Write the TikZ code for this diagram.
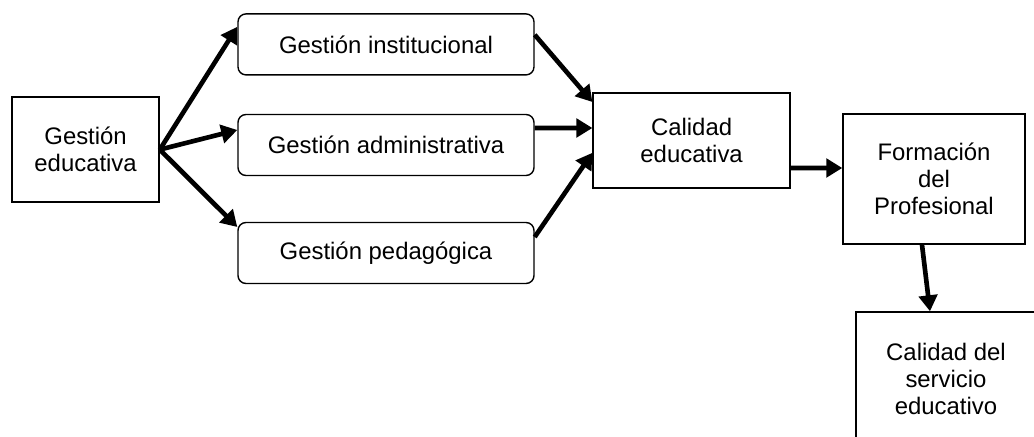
\documentclass[tikz,border=0pt]{standalone}
\usepackage{fontspec}
\setmainfont{Liberation Sans}
\usepackage{tikz}
\usetikzlibrary{positioning,arrows.meta,calc}

\begin{document}
\begin{tikzpicture}[
  font=\fontsize{17}{19.2}\selectfont,
  caja/.style={draw, line width=1pt, align=center, inner sep=0pt},
  cajar/.style={caja, rounded corners=2mm, minimum width=7.4cm, minimum height=1.525cm},
  flecha/.style={-{Triangle[length=4mm, width=4.6mm]}, line width=3.3pt}]
\clip (0,0) rectangle (25.85,-10.925);
\node[caja, minimum width=3.675cm, minimum height=2.625cm] (ged) at (2.14,-3.74) {Gestión\\educativa};
\node[cajar] (gin) at (9.65,-1.11) {Gestión institucional};
\node[cajar] (gad) at (9.65,-3.625) {Gestión administrativa};
\node[cajar] (gpe) at (9.65,-6.325) {Gestión pedagógica};
\node[caja, minimum width=4.925cm, minimum height=2.375cm] (cal) at (17.29,-3.51) {Calidad\\educativa};
\node[caja, minimum width=4.55cm, minimum height=3.25cm] (for) at (23.35,-4.475) {Formación\\del\\Profesional};
\node[caja, minimum width=4.5cm, minimum height=3.35cm] (cse) at (23.65,-9.475) {Calidad del\\servicio\\educativo};
\draw[flecha] (ged.east) -- ($(gin.west)+(0,0.44)$);
\draw[flecha] (ged.east) -- ($(gad.west)+(0,0.375)$);
\draw[flecha] (ged.east) -- ($(gpe.west)+(0,0.65)$);
\draw[flecha] ($(gin.east)+(0,0.24)$) -- ($(cal.west)+(0,0.96)$);
\draw[flecha] ($(gad.east)+(0,0.425)$) -- ($(cal.west)+(0,0.31)$);
\draw[flecha] ($(gpe.east)+(0,0.4)$) -- ($(cal.west)+(0,-0.31)$);
\draw[flecha] ($(cal.east)+(0,-0.69)$) -- ($(for.west)+(0,0.275)$);
\draw[flecha] ($(for.south)+(-0.3,0)$) -- ($(cse.north)+(-0.4,0)$);
\end{tikzpicture}
\end{document}
